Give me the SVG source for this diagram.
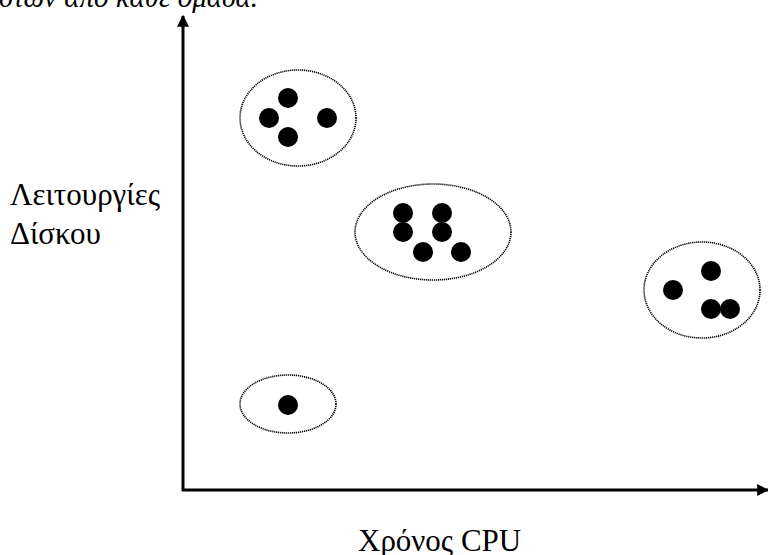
<svg xmlns="http://www.w3.org/2000/svg" width="768" height="555" viewBox="0 0 768 555">
<style>
.grp{fill:none;stroke:#000;stroke-width:1.6;stroke-dasharray:1.2 0.8}
.pt{fill:#000}
.lbl{font-family:"Liberation Serif","Times New Roman",serif;font-size:31px;fill:#000}
.axis{stroke:#000;stroke-width:3;fill:none}
</style>
<defs>
<marker id="ah" viewBox="0 0 10 10" refX="9" refY="5" markerWidth="4" markerHeight="4.4" orient="auto" markerUnits="strokeWidth">
<path d="M0,0 L10,5 L0,10 z" fill="#000"/>
</marker>
</defs>
<rect width="768" height="555" fill="#fff"/>
<text x="258" y="7" text-anchor="end" class="lbl" style="font-style:italic;font-size:29px">στων από κάθε ομάδα.</text>
<g id="connectors">
<line class="axis" x1="183" y1="491" x2="183" y2="16" marker-end="url(#ah)"/>
<line class="axis" x1="182" y1="490" x2="768" y2="490" marker-end="url(#ah)"/>
</g>
<g id="cluster1">
<ellipse class="grp" cx="298" cy="118" rx="58" ry="48"/>
<circle class="pt" cx="288" cy="98" r="10"/>
<circle class="pt" cx="269" cy="118" r="10"/>
<circle class="pt" cx="327" cy="118" r="10"/>
<circle class="pt" cx="288" cy="137" r="10"/>
</g>
<g id="cluster2">
<ellipse class="grp" cx="433" cy="232" rx="78" ry="48"/>
<circle class="pt" cx="403" cy="213" r="10"/>
<circle class="pt" cx="403" cy="232" r="10"/>
<circle class="pt" cx="442" cy="213" r="10"/>
<circle class="pt" cx="442" cy="232" r="10"/>
<circle class="pt" cx="423" cy="252" r="10"/>
<circle class="pt" cx="461" cy="252" r="10"/>
</g>
<g id="cluster3">
<ellipse class="grp" cx="702" cy="290" rx="58" ry="48"/>
<circle class="pt" cx="673" cy="290" r="10"/>
<circle class="pt" cx="711" cy="271" r="10"/>
<circle class="pt" cx="711" cy="309" r="10"/>
<circle class="pt" cx="730" cy="309" r="10"/>
</g>
<g id="cluster4">
<ellipse class="grp" cx="288" cy="404" rx="48" ry="29"/>
<circle class="pt" cx="288" cy="405" r="10"/>
</g>
<g id="ylabel">
<text class="lbl" x="10" y="205">Λειτουργίες</text>
<text class="lbl" x="10" y="244">Δίσκου</text>
</g>
<g id="xlabel">
<text class="lbl" x="358" y="551">Χρόνος CPU</text>
</g>
</svg>
